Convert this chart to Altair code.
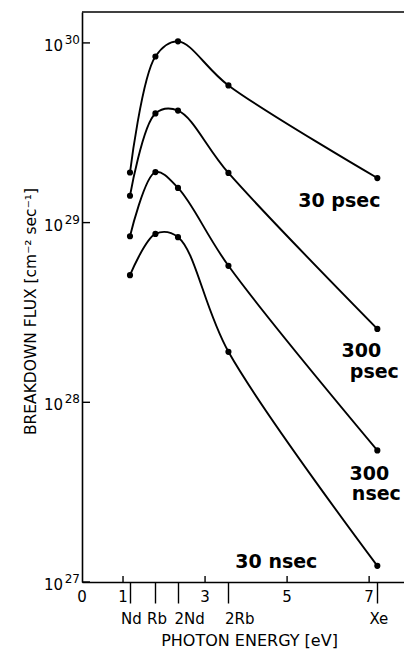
import json

import altair as alt
import pandas as pd

# Laser lines (photon energy in eV) and their names on the energy axis
line_names = ["Nd", "Rb", "2Nd", "2Rb", "Xe"]
line_energy = [1.17, 1.79, 2.34, 3.57, 7.2]

# Breakdown flux [cm^-2 sec^-1] for each pulse duration, one value per laser line
flux_30_psec = [1.9e29, 8.4e29, 1.02e30, 5.8e29, 1.77e29]
flux_300_psec = [1.41e29, 4.05e29, 4.2e29, 1.89e29, 2.56e28]
flux_300_nsec = [8.4e28, 1.91e29, 1.56e29, 5.75e28, 5.4e27]
flux_30_nsec = [5.1e28, 8.65e28, 8.3e28, 1.91e28, 1.23e27]

durations = ["30 psec", "300 psec", "300 nsec", "30 nsec"]
series = [flux_30_psec, flux_300_psec, flux_300_nsec, flux_30_nsec]

# Axis ticks
energy_ticks = [0, 1, 3, 5, 7]
flux_ticks = [1e27, 1e28, 1e29, 1e30]
flux_exponents = ["27", "28", "29", "30"]

FONT = "DejaVu Sans"
W, H = 322, 570
X_MAX = 7.85
Y_MAX = 10 ** 30.172

rows = []
for name, vals in zip(durations, series):
    for e, v in zip(line_energy, vals):
        rows.append({"duration": name, "energy": e, "flux": v})
df = pd.DataFrame(rows)

x_scale = alt.Scale(domain=[0, X_MAX], nice=False, zero=False)
y_scale = alt.Scale(type="log", domain=[1e27, Y_MAX], nice=False)

name_expr = f"{json.dumps(line_names)}[indexof({json.dumps(line_energy)}, datum.value)]"
# the harmonic lines ("2Nd", "2Rb") start their label at the tick
harmonic_test = "datum.value > 2 && datum.value < 5"

x_enc = alt.X(
    "energy:Q",
    scale=x_scale,
    axis=alt.Axis(
        values=line_energy,
        labelExpr=name_expr,
        labelOverlap=False,
        labelBound=False,
        labelAlign={"condition": {"test": harmonic_test, "value": "left"}, "value": "center"},
        labelOffset={"condition": {"test": harmonic_test, "value": -4}, "value": 1},
        tickSize=21,
        tickWidth=1.4,
        tickColor="black",
        domainColor="black",
        domainWidth=1.6,
        labelFont=FONT,
        labelFontSize=15,
        labelColor="black",
        labelPadding=8,
        grid=False,
        title="PHOTON ENERGY [eV]",
        titleFont=FONT,
        titleFontSize=16,
        titleFontWeight="normal",
        titleColor="black",
        titleX=167,
        titleY=58,
        titleBaseline="middle",
    ),
)
y_enc = alt.Y(
    "flux:Q",
    scale=y_scale,
    axis=alt.Axis(
        labels=False,
        ticks=False,
        grid=False,
        domainColor="black",
        domainWidth=1.6,
        title="BREAKDOWN FLUX [cm⁻² sec⁻¹]",
        titleFont=FONT,
        titleFontSize=15.5,
        titleFontWeight="normal",
        titleColor="black",
        titleX=-52,
        titleY=299,
        titleAngle=270,
        titleAlign="center",
        titleBaseline="middle",
    ),
)

base = alt.Chart(df)

curves = base.mark_line(
    interpolate="catmull-rom", color="black", strokeWidth=1.9, clip=False
).encode(x=x_enc, y=y_enc, detail="duration:N", order="energy:Q")

dots = base.mark_circle(size=38, color="black", opacity=1).encode(
    x=alt.X("energy:Q", scale=x_scale), y=alt.Y("flux:Q", scale=y_scale)
)

# Numeric energy labels with short inward ticks
tick_df = pd.DataFrame({"energy": energy_ticks, "label": [str(t) for t in energy_ticks]})
num_labels = alt.Chart(tick_df).mark_text(
    font=FONT, fontSize=15, color="black", baseline="middle", align="center"
).encode(x=alt.X("energy:Q", scale=x_scale), y=alt.value(H + 15), text="label:N")
up_ticks = alt.Chart(tick_df[tick_df.energy > 0]).mark_rule(
    color="black", strokeWidth=1.4
).encode(x=alt.X("energy:Q", scale=x_scale), y=alt.value(H - 6), y2=alt.value(H))

# Flux decade ticks (inward) and labels "10" with raised exponent
flux_df = pd.DataFrame({"flux": flux_ticks, "exp": flux_exponents, "base": ["10"] * 4})
y_ticks = alt.Chart(flux_df).mark_rule(color="black", strokeWidth=1.4).encode(
    y=alt.Y("flux:Q", scale=y_scale), x=alt.value(0), x2=alt.value(8)
)
y_base = alt.Chart(flux_df).mark_text(
    font=FONT, fontSize=15, color="black", align="right", baseline="middle", dy=3
).encode(y=alt.Y("flux:Q", scale=y_scale), x=alt.value(-19), text="base:N")
y_exp = alt.Chart(flux_df).mark_text(
    font=FONT, fontSize=12, color="black", align="right", baseline="middle", dy=-3
).encode(y=alt.Y("flux:Q", scale=y_scale), x=alt.value(-2), text="exp:N")

# Top frame line
frame_top = alt.Chart(tick_df.head(1)).mark_rule(color="black", strokeWidth=1.6).encode(
    x=alt.value(0), x2=alt.value(W), y=alt.value(0)
)

# Curve labels placed next to the Xe end point of each series
label_specs = [
    ("30 psec", "30 psec", -38, 23),
    ("300 psec", "300", -16, 22),
    ("300 psec", "psec", -3, 43),
    ("300 nsec", "300", -8, 24),
    ("300 nsec", "nsec", -1, 44),
    ("30 nsec", "30 nsec", -101, -4),
]
end_points = df[df.energy == line_energy[-1]].set_index("duration")
label_layers = []
for dur, txt, dx, dy in label_specs:
    pt = end_points.loc[dur]
    ldf = pd.DataFrame({"energy": [pt.energy], "flux": [pt.flux], "text": [txt]})
    label_layers.append(
        alt.Chart(ldf)
        .mark_text(
            font=FONT, fontSize=19, fontWeight="bold", color="black",
            align="center", baseline="middle", dx=dx, dy=dy,
        )
        .encode(
            x=alt.X("energy:Q", scale=x_scale),
            y=alt.Y("flux:Q", scale=y_scale),
            text="text:N",
        )
    )

chart = (
    alt.layer(
        curves, dots, num_labels, up_ticks, y_ticks, y_base, y_exp, frame_top,
        *label_layers,
    )
    .properties(
        width=W,
        height=H,
        autosize=alt.AutoSizeParams(type="none"),
        padding={"left": 82, "top": 12, "right": 0, "bottom": 67},
        background="white",
    )
    .configure_view(stroke=None)
)

chart.save("out.html", embed_options={"renderer": "svg", "actions": False})
